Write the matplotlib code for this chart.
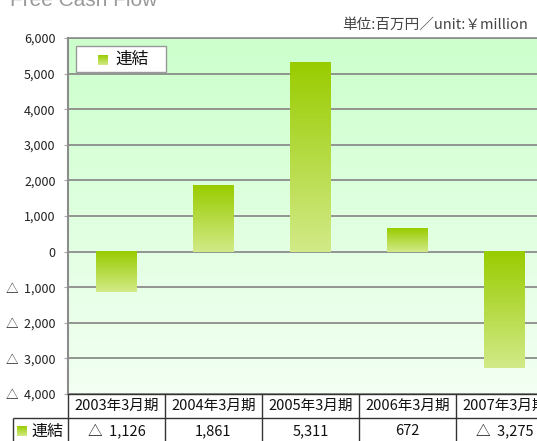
import matplotlib
matplotlib.use("Agg")
import matplotlib.pyplot as plt
import numpy as np
from matplotlib.colors import LinearSegmentedColormap
from matplotlib.patches import Rectangle
from matplotlib.ticker import FuncFormatter

plt.rcParams['font.family'] = ['Noto Sans CJK JP', 'DejaVu Sans']

# data
periods = ["2003年3月期", "2004年3月期", "2005年3月期", "2006年3月期", "2007年3月期"]
fcf = [-1126, 1861, 5311, 672, -3275]
series_name = "連結"
yticks = np.arange(-4000, 6001, 1000)
title = "Free Cash Flow"
unit_label = "単位:百万円／unit:￥million"


def fmt(v, pos=None):
    # negative numbers are written with a triangle in Japanese reports
    return f"△  {abs(v):,.0f}" if v < 0 else f"{v:,.0f}"


W, H = 537, 441
fig = plt.figure(figsize=(W / 100, H / 100), dpi=100)

# plot area in pixels (right edge runs off the picture like the original)
L, T, R, B = 68, 38, 553, 394
ax = fig.add_axes([L / W, 1 - B / H, (R - L) / W, (B - T) / H])

bg_cmap = LinearSegmentedColormap.from_list("bg", ["#f3fff3", "#ccffcc"])
bar_cmap = LinearSegmentedColormap.from_list("bar", ["#99cc00", "#d2ea88"])
grad = np.linspace(0, 1, 256).reshape(-1, 1)

x = np.arange(len(periods))
ax.imshow(grad, cmap=bg_cmap, extent=(-0.5, 4.5, yticks[0], yticks[-1]),
          origin="lower", aspect="auto", zorder=0)

bars = ax.bar(x, fcf, width=0.42, color="#b5d93a", zorder=2)
for rect, v in zip(bars, fcf):
    x0 = rect.get_x()
    ax.imshow(grad, cmap=bar_cmap,
              extent=(x0, x0 + rect.get_width(), min(0, v), max(0, v)),
              origin="upper", aspect="auto", zorder=3)

ax.set_xlim(-0.5, 4.5)
ax.set_ylim(yticks[0], yticks[-1])
ax.set_yticks(yticks)
ax.yaxis.set_major_formatter(FuncFormatter(fmt))
ax.set_xticks([])
ax.set_axisbelow(True)
ax.grid(axis="y", color="#8c8c8c", lw=1.3)
ax.tick_params(axis="y", length=3, color="#aaaaaa", pad=6,
               labelsize=9, labelcolor="#222222")
ax.spines["right"].set_visible(False)
ax.spines["left"].set_color("#8c8c8c")
ax.spines["left"].set_linewidth(1.5)
ax.spines["top"].set_color("#8c8c8c")
ax.spines["top"].set_linewidth(1.2)
ax.spines["bottom"].set_color("#333333")
ax.spines["bottom"].set_linewidth(1)

# overlay in pixel coords for title, legend and the data table
ov = fig.add_axes([0, 0, 1, 1])
ov.axis("off")


def swatch(x0, y0, size=10):
    ov.imshow(grad, cmap=bar_cmap, extent=(x0, x0 + size, y0 + size, y0),
              origin="upper", aspect="auto", zorder=5)


ov.text(10, 6, title, fontsize=15, color="#999999", va="baseline",
        family="Liberation Sans")
ov.text(528, 25, unit_label, ha="right", va="center", fontsize=10.5,
        color="#444444")

# legend box
ov.add_patch(Rectangle((76, 46), 90, 26, fc="white", ec="#999999", lw=1,
                       zorder=4))
swatch(98, 55)
ov.text(115, 59, series_name, ha="left", va="center", fontsize=12,
        color="#111111", zorder=5)

# table under the plot
col_w = (R - L) / len(periods)
edges = [L + col_w * i for i in range(len(periods) + 1)]
ov.hlines(418, 13, R, color="#333333", lw=1)
ov.vlines(edges, B, 445, color="#333333", lw=1)
ov.vlines(13, 418, 445, color="#333333", lw=1)
for i, (p, v) in enumerate(zip(periods, fcf)):
    cx = L + col_w * (i + 0.5)
    ov.text(cx, 406, p, ha="center", va="center", fontsize=10.5,
            color="#111111")
    ov.text(cx, 431, fmt(v), ha="center", va="center", fontsize=10.5,
            color="#111111")
swatch(17, 426)
ov.text(31, 431, series_name, ha="left", va="center", fontsize=11.5,
        color="#111111")

ov.set_xlim(0, W)
ov.set_ylim(H, 0)

fig.savefig("out.png", dpi=100)
